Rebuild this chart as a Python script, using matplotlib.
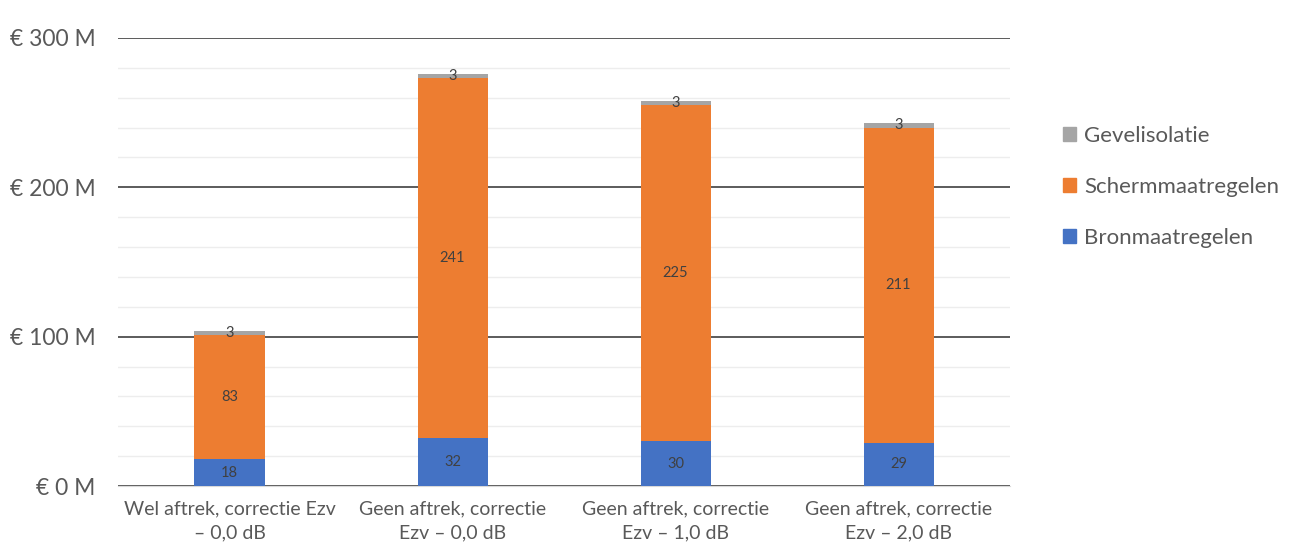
import matplotlib.pyplot as plt
from matplotlib.patches import Patch
import numpy as np

plt.rcParams['font.family'] = ['Lato', 'DejaVu Sans']

# Kosten per variant (miljoen euro)
categorieen = ['Wel aftrek, correctie Ezv\n– 0,0 dB',
               'Geen aftrek, correctie\nEzv – 0,0 dB',
               'Geen aftrek, correctie\nEzv – 1,0 dB',
               'Geen aftrek, correctie\nEzv – 2,0 dB']
bron = [18, 32, 30, 29]
scherm = [83, 241, 225, 211]
gevel = [3, 3, 3, 3]

reeksen = [('Bronmaatregelen', bron, '#4472C4'),
           ('Schermmaatregelen', scherm, '#ED7D31'),
           ('Gevelisolatie', gevel, '#A5A5A5')]

tekstkleur = '#595959'

fig = plt.figure(figsize=(12.91, 5.58), dpi=100)
ax = fig.add_axes([0.0914, 0.129, 0.691, 0.803])

x = np.arange(len(categorieen))
onder = np.zeros(len(categorieen))
for naam, waarden, kleur in reeksen:
    staven = ax.bar(x, waarden, width=0.314, bottom=onder, color=kleur,
                    label=naam, zorder=3)
    ax.bar_label(staven, labels=[str(v) for v in waarden], label_type='center',
                 fontsize=10.5, color='#404040', zorder=4)
    onder += np.array(waarden)

ax.set_xlim(-0.5, 3.5)
ax.set_ylim(0, 300)
ax.set_yticks([0, 100, 200, 300])
ax.set_yticklabels(['€ 0 M', '€ 100 M', '€ 200 M', '€ 300 M'])
ax.set_yticks(np.arange(20, 300, 20), minor=True)
ax.set_xticks(x)
ax.set_xticklabels(categorieen, linespacing=1.5)

ax.grid(axis='y', which='major', color='#404040', linewidth=1.2, zorder=0)
ax.grid(axis='y', which='minor', color='#ededed', linewidth=1.0, zorder=0)
for kant in ['top', 'right', 'left']:
    ax.spines[kant].set_visible(False)
ax.spines['bottom'].set_color('#d9d9d9')
ax.tick_params(axis='both', which='both', length=0)
ax.tick_params(axis='y', labelsize=16.5, labelcolor=tekstkleur, pad=16)
ax.tick_params(axis='x', labelsize=14, labelcolor=tekstkleur, pad=10)

handles = [Patch(color=k, label=n) for n, _, k in reversed(reeksen)]
fig.legend(handles=handles, loc='upper left', bbox_to_anchor=(0.808, 0.81),
           frameon=False, fontsize=16, labelcolor=tekstkleur,
           handlelength=0.6, handleheight=0.6, handletextpad=0.35,
           labelspacing=1.4)

plt.savefig('out.png', dpi=100)
